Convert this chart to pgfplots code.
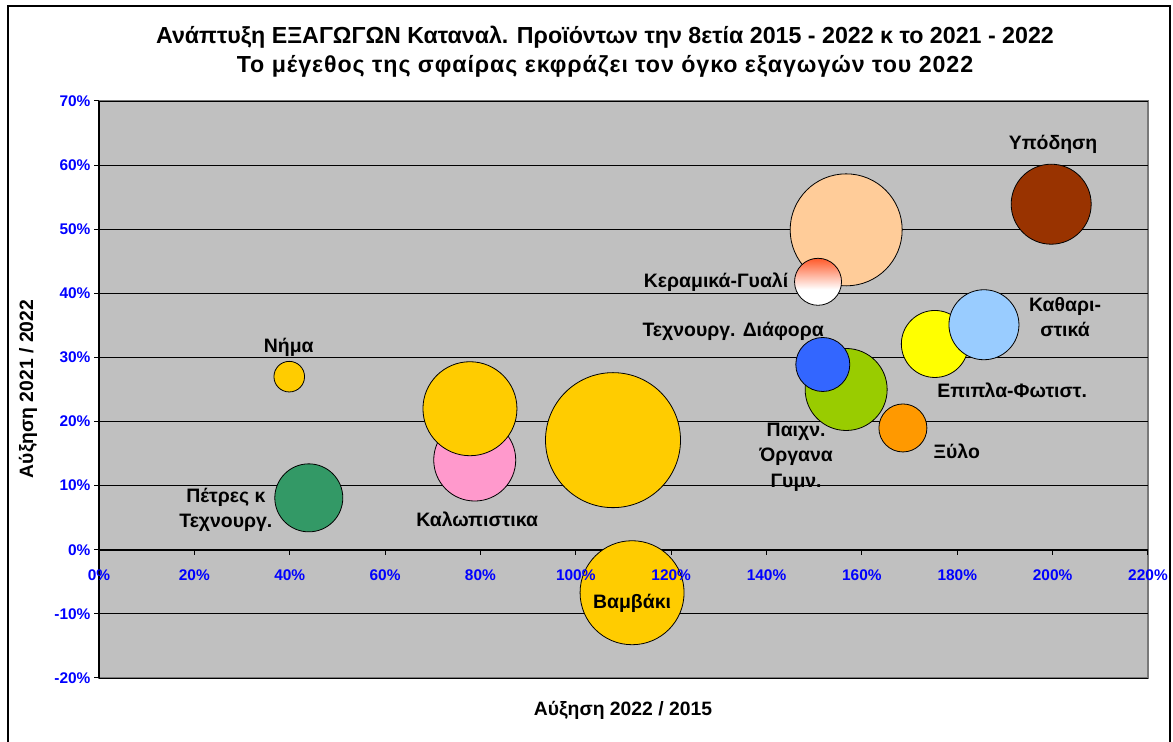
\documentclass[border=0pt]{standalone}
\usepackage{fontspec}
\setmainfont{Liberation Sans}
\usepackage{pgfplots}
\pgfplotsset{compat=1.18}
\definecolor{bg}{HTML}{C0C0C0}
\definecolor{gold}{HTML}{FFCC00}
\definecolor{petres}{HTML}{339966}
\definecolor{pinkk}{HTML}{FF99CC}
\definecolor{peach}{HTML}{FFCC99}
\definecolor{keram}{HTML}{FF5A2A}
\definecolor{techblue}{HTML}{3366FF}
\definecolor{lime}{HTML}{99CC00}
\definecolor{xylo}{HTML}{FF9900}
\definecolor{yel}{HTML}{FFFF00}
\definecolor{lblue}{HTML}{99CCFF}
\definecolor{brownn}{HTML}{993300}
\definecolor{tickblue}{HTML}{0000FF}
\pgfdeclareverticalshading{keramshade}{100bp}{color(0bp)=(white); color(42bp)=(white); color(75bp)=(keram); color(100bp)=(keram)}
\pgfdeclareplotmark{gradball}{%
  \pgfpathcircle{\pgfpointorigin}{\pgfplotmarksize}%
  \pgfshadepath{keramshade}{0}%
  \pgfusepath{}%
  \pgfpathcircle{\pgfpointorigin}{\pgfplotmarksize}%
  \pgfusepath{stroke}}
\newcommand{\lab}{\bfseries\fontsize{19.5}{25.5}\selectfont}
\pgfplotsset{common/.style={
  at={(99bp,64bp)}, anchor=south west,
  width=1049bp, height=577bp, scale only axis,
  xmin=0, xmax=2.2, ymin=-0.2, ymax=0.7,
  axis x line*=middle, axis y line*=left,
  hide obscured x ticks=false, hide obscured y ticks=false,
  xtick={0,0.2,0.4,0.6,0.8,1.0,1.2,1.4,1.6,1.8,2.0,2.2},
  ytick={-0.2,-0.1,0,0.1,0.2,0.3,0.4,0.5,0.6,0.7},
  clip=false}}
\begin{document}
\begin{tikzpicture}[x=1bp,y=1bp]
\fill[white] (0,0) rectangle (1173,742);
\draw[line width=1.5bp] (8,-5) -- (8,736) -- (1170,736) -- (1170,-5);
\node[align=center, font=\bfseries\fontsize{23.3}{29}\selectfont] at (605,690.5)
  {Ανάπτυξη ΕΞΑΓΩΓΩΝ Καταναλ. Προϊόντων την 8ετία 2015 - 2022 κ το 2021 - 2022\\
   {\addfontfeature{LetterSpace=4}Το μέγεθος της σφαίρας εκφράζει τον όγκο εξαγωγών του 2022}};
\node[font=\bfseries\fontsize{19.4}{22}\selectfont] at (623,32) {Αύξηση 2022 / 2015};
\node[rotate=90, font=\bfseries\fontsize{19.4}{22}\selectfont] at (28,353) {Αύξηση 2021 / 2022};
% layer 1: plot area, grid and the bubble that lies under the x tick labels
\begin{axis}[common,
  axis line style={draw=none},
  axis background/.style={fill=bg, draw=gray!95!black, line width=1.2bp},
  xticklabels={}, yticklabels={},
  major tick length=0pt,
  extra y ticks={0}, extra y tick labels={},
  extra y tick style={grid style={black, line width=1.5bp}},
  ymajorgrids,
  grid style={black, line width=0.8bp},
]
\addplot[only marks, mark=*, mark size=52bp, mark options={fill=gold, draw=black, line width=0.8bp}] coordinates {(1.118,-0.067)};
\end{axis}
% layer 2: axes, ticks, tick labels, other bubbles, data labels
\begin{axis}[common,
  axis line style={black, line width=1.2bp},
  x axis line style={draw=none},
  xticklabels={0\%,20\%,40\%,60\%,80\%,100\%,120\%,140\%,160\%,180\%,200\%,220\%},
  yticklabels={-20\%,-10\%,0\%,10\%,20\%,30\%,40\%,50\%,60\%,70\%},
  tick align=outside,
  major tick length=5bp,
  tick style={black, line width=1bp},
  tick label style={font=\bfseries\fontsize{15.5}{18}\selectfont, text=tickblue},
  xticklabel style={yshift=-11.5bp},
]
\addplot[only marks, mark=*, mark size=15.3bp, mark options={fill=gold, draw=black, line width=0.8bp}] coordinates {(0.399,0.270)};
\addplot[only marks, mark=*, mark size=34bp, mark options={fill=petres, draw=black, line width=0.8bp}] coordinates {(0.440,0.081)};
\addplot[only marks, mark=*, mark size=41bp, mark options={fill=pinkk, draw=black, line width=0.8bp}] coordinates {(0.788,0.140)};
\addplot[only marks, mark=*, mark size=47bp, mark options={fill=gold, draw=black, line width=0.8bp}] coordinates {(0.778,0.220)};
\addplot[only marks, mark=*, mark size=67.5bp, mark options={fill=gold, draw=black, line width=0.8bp}] coordinates {(1.078,0.171)};
\addplot[only marks, mark=*, mark size=56bp, mark options={fill=peach, draw=black, line width=0.8bp}] coordinates {(1.567,0.499)};
\addplot[only marks, mark=gradball, mark size=23.5bp, mark options={draw=black, line width=0.8bp}] coordinates {(1.508,0.418)};
\addplot[only marks, mark=*, mark size=41bp, mark options={fill=lime, draw=black, line width=0.8bp}] coordinates {(1.567,0.250)};
\addplot[only marks, mark=*, mark size=27bp, mark options={fill=techblue, draw=black, line width=0.8bp}] coordinates {(1.518,0.289)};
\addplot[only marks, mark=*, mark size=24bp, mark options={fill=xylo, draw=black, line width=0.8bp}] coordinates {(1.686,0.190)};
\addplot[only marks, mark=*, mark size=33.5bp, mark options={fill=yel, draw=black, line width=0.8bp}] coordinates {(1.753,0.321)};
\addplot[only marks, mark=*, mark size=35bp, mark options={fill=lblue, draw=black, line width=0.8bp}] coordinates {(1.856,0.351)};
\addplot[only marks, mark=*, mark size=40bp, mark options={fill=brownn, draw=black, line width=0.8bp}] coordinates {(1.997,0.539)};
% labels
\node[font=\lab] at (axis cs:0.398,0.316) {Νήμα};
\node[font=\lab, align=center] at (axis cs:0.266,0.0627) {Πέτρες κ\\Τεχνουργ.};
\node[font=\lab] at (axis cs:0.784,0.2195) {Ύφασμα};
\node[font=\lab] at (axis cs:0.793,0.0479) {Καλωπιστικα};
\node[font=\lab] at (axis cs:1.091,0.171) {Ενδυση};
\node[font=\lab] at (axis cs:1.118,-0.083) {Βαμβάκι};
\node[font=\lab] at (axis cs:1.573,0.497) {Χαρτί};
\node[font=\lab] at (axis cs:1.294,0.4176) {Κεραμικά-Γυαλί};
\node[font=\lab] at (axis cs:1.330,0.341) {Τεχνουργ. Διάφορα};
\node[font=\lab, align=center] at (axis cs:1.462,0.1446) {Παιχν.\\Όργανα\\Γυμν.};
\node[font=\lab] at (axis cs:1.799,0.154) {Ξύλο};
\node[font=\lab] at (axis cs:1.915,0.249) {Επιπλα-Φωτιστ.};
\node[font=\lab, align=center] at (axis cs:2.026,0.363) {Καθαρι-\\στικά};
\node[font=\lab] at (axis cs:2.001,0.632) {Υπόδηση};
\end{axis}
\pgfresetboundingbox
\useasboundingbox (0,0) rectangle (1173,742);
\end{tikzpicture}
\end{document}
